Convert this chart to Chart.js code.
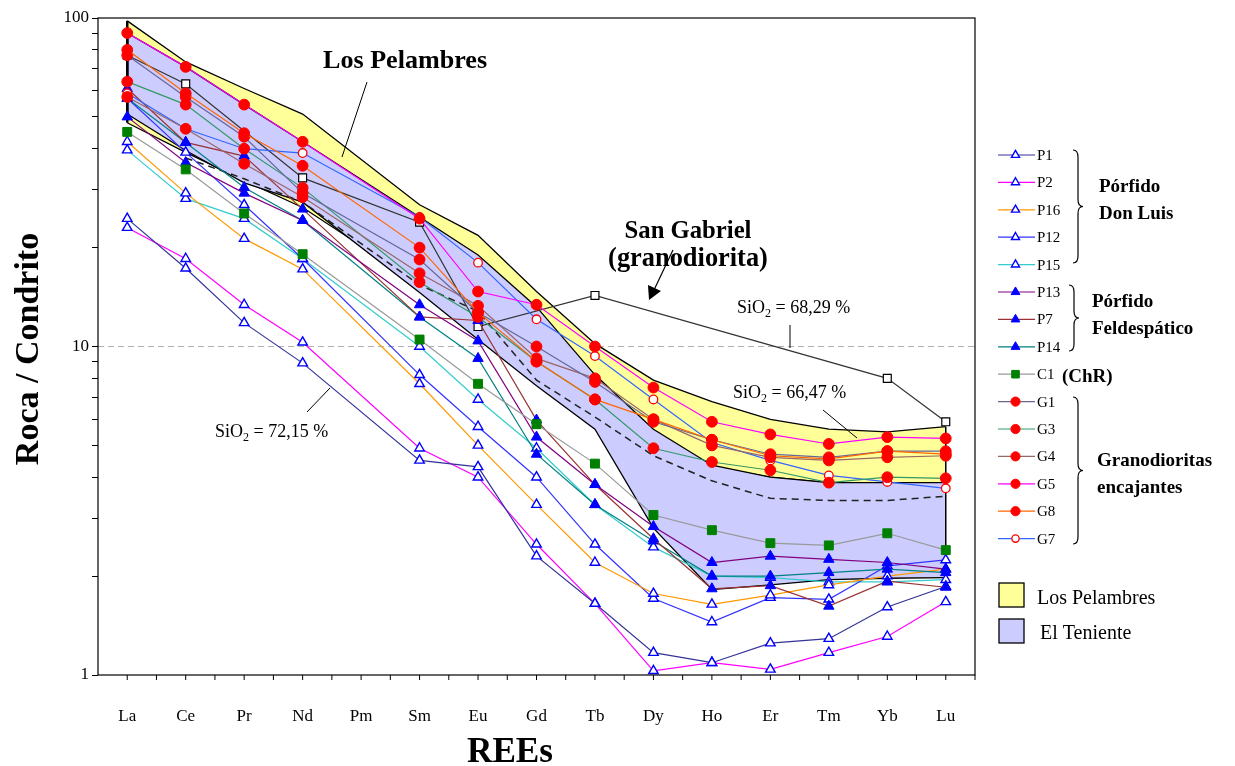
<!DOCTYPE html>
<html>
<head>
<meta charset="utf-8">
<script src="https://cdn.jsdelivr.net/npm/chart.js@4.4.1/dist/chart.umd.min.js"></script>
<style>
  html, body { margin: 0; padding: 0; background: #fff; }
</style>
</head>
<body>
<canvas id="chart" width="1235" height="766"></canvas>
<script>
// REE elements (x axis)
const categories = ['La', 'Ce', 'Pr', 'Nd', 'Pm', 'Sm', 'Eu', 'Gd', 'Tb', 'Dy', 'Ho', 'Er', 'Tm', 'Yb', 'Lu'];
const yTickLabels = [1, 10, 100];

// Pórfido Don Luis
const p1  = [24.5, 17.3, 11.8, 8.9, null, 4.5, 4.3, 2.3, 1.65, 1.17, 1.09, 1.25, 1.29, 1.61, 1.86];
const p2  = [23, 18.5, 13.4, 10.3, null, 4.9, 4.0, 2.5, 1.65, 1.03, 1.09, 1.04, 1.17, 1.31, 1.67];
const p16 = [42, 29.3, 21.3, 17.2, null, 7.7, 5.0, 3.3, 2.2, 1.77, 1.64, 1.75, 1.88, 2.0, 2.1];
const p12 = [57, 39, 27, 18.5, null, 8.2, 5.7, 4.0, 2.5, 1.71, 1.45, 1.72, 1.70, 2.15, 2.24];
const p15 = [39.6, 28.2, 24.5, 18.5, null, 10, 6.9, 4.9, 3.3, 2.45, 2.0, 1.98, 1.92, 1.92, 1.95];
// Pórfido Feldespático
const p13 = [50, 36.3, 29.3, 24.2, null, 13.4, 10.4, 5.3, 3.8, 2.83, 2.2, 2.3, 2.25, 2.2, 2.1];
const p7  = [61, 41.8, 38, 26.2, null, 12.3, 12, 5.97, 3.8, 2.6, 1.83, 1.87, 1.62, 1.93, 1.85];
const p14 = [57, 41.8, 30.5, 24.2, null, 12.3, 9.2, 4.7, 3.3, 2.56, 2.0, 2.0, 2.05, 2.1, 2.05];
// ChR
const c1  = [45, 34.6, 25.4, 19.1, null, 10.5, 7.7, 5.8, 4.4, 3.07, 2.76, 2.52, 2.48, 2.7, 2.4];
// Granodioritas encajantes
const g1  = [77, 57.5, 43.5, 29.3, null, 18.4, 12.7, 10.0, 7.8, 5.9, 5.2, 4.7, 4.6, 4.8, 4.8];
const g3  = [64, 54.5, 40, 30.4, null, 15.7, 12.3, 9.0, 6.9, 4.9, 4.45, 4.2, 3.85, 4.0, 3.97];
const g4  = [57.5, 46, 36, 28.5, null, 16.7, 13.3, 9.2, 8.0, 6.0, 5.0, 4.6, 4.5, 4.6, 4.65];
const g5  = [90, 71, 54.5, 42, null, 24.5, 14.7, 13.4, 10.0, 7.5, 5.9, 5.4, 5.05, 5.3, 5.25];
const g8  = [80, 59, 44.6, 35.5, null, 20, 12.7, 9.0, 6.9, 6.0, 5.2, 4.65, 4.55, 4.8, 4.7];
const g7  = [59, 46, 40, 38.8, null, 24.8, 18.0, 12.1, 9.35, 6.9, 5.1, 4.5, 4.05, 3.87, 3.7];
// San Gabriel (granodiorita) and El Teniente mean (dashed)
const sanGabriel = [77, 63, null, 32.6, null, 23.9, 11.5, null, 14.3, null, null, null, null, 8.0, 5.9];
const tenienteMean = [null, 37.5, 32.4, 27.5, null, 15.4, 12.8, 7.9, 6.1, 4.65, 3.9, 3.45, 3.4, 3.4, 3.5];
// Fields
const pelambresUpper = [98, 73.5, 61, 51, null, 27, 21.8, 14.7, 10.2, 7.9, 6.8, 6.0, 5.6, 5.5, 5.7];
const pelambresLower = [48, 39, 32, 26.5, null, 15.5, 11.5, 8.5, 7.0, 5.3, 4.3, 4.0, 3.85, 3.85, 3.85];
const tenienteUpper  = [90, 71, 54.5, 42, null, 24.8, 19, 13.2, 8.2, 5.6, 4.35, 4.0, 3.85, 3.85, 3.85];
const tenienteLower  = [51, 39.5, 31.5, 27.5, null, 14.6, 10.5, 7.6, 5.6, 2.8, 1.82, 1.88, 1.95, 1.97, 1.98];

const FONT = "'Liberation Serif', 'Times New Roman', serif";

// marker looks
const markers = {
    openTri:  { pointStyle: 'triangle', radius: 5.5, bg: '#ffffff', border: '#0000ff', bw: 1.4 },
    tri:      { pointStyle: 'triangle', radius: 6, bg: '#0000ff', border: '#0000ff', bw: 1 },
    square:   { pointStyle: 'rect', radius: 6.3, bg: '#008000', border: '#008000', bw: 1 },
    dot:      { pointStyle: 'circle', radius: 5.4, bg: '#ff0000', border: '#ff0000', bw: 1 },
    openDot:  { pointStyle: 'circle', radius: 4.3, bg: '#ffffff', border: '#ff0000', bw: 1.3 },
    openSq:   { pointStyle: 'rect', radius: 5.6, bg: '#ffffff', border: '#000000', bw: 1.2 }
};

const seriesList = [
    ['G5', g5, '#ff00ff', 'dot'],
    ['G8', g8, '#ff6600', 'dot'],
    ['G1', g1, '#666699', 'dot'],
    ['G4', g4, '#996666', 'dot'],
    ['G3', g3, '#339966', 'dot'],
    ['G7', g7, '#3366ff', 'openDot'],
    ['C1', c1, '#999999', 'square'],
    ['P13', p13, '#800080', 'tri'],
    ['P7', p7, '#993333', 'tri'],
    ['P14', p14, '#008080', 'tri'],
    ['P1', p1, '#333399', 'openTri'],
    ['P2', p2, '#ff00ff', 'openTri'],
    ['P16', p16, '#ff9900', 'openTri'],
    ['P12', p12, '#3333ff', 'openTri'],
    ['P15', p15, '#33cccc', 'openTri']
];

const datasets = seriesList.map(([label, data, color, m]) => ({
    label: label,
    data: data,
    borderColor: color,
    borderWidth: 1.2,
    pointStyle: markers[m].pointStyle,
    pointRadius: markers[m].radius,
    pointBackgroundColor: markers[m].bg,
    pointBorderColor: markers[m].border,
    pointBorderWidth: markers[m].bw,
    spanGaps: true,
    fill: false,
    order: 0
}));

datasets.push({
    label: 'San Gabriel', data: sanGabriel, borderColor: '#333333', borderWidth: 1.2,
    pointStyle: 'rect', pointRadius: markers.openSq.radius, pointBackgroundColor: '#ffffff',
    pointBorderColor: '#000000', pointBorderWidth: 1.2, spanGaps: true, fill: false, order: 1
});
datasets.push({
    label: 'El Teniente media', data: tenienteMean, borderColor: '#222222', borderWidth: 1.5,
    borderDash: [7, 5], pointRadius: 0, spanGaps: true, fill: false, order: 2
});

// fields (drawn first, underneath)
const fieldStart = datasets.length;
datasets.push({ label: 'LP sup', data: pelambresUpper, borderColor: '#000', borderWidth: 1.3,
    backgroundColor: '#ffff99', fill: '+1', pointRadius: 0, spanGaps: true, order: 100 });
datasets.push({ label: 'LP inf', data: pelambresLower, borderColor: '#000', borderWidth: 1.3,
    fill: false, pointRadius: 0, spanGaps: true, order: 99 });
datasets.push({ label: 'ET sup', data: tenienteUpper, borderColor: '#000', borderWidth: 1.3,
    backgroundColor: '#ccccff', fill: '+1', pointRadius: 0, spanGaps: true, order: 98 });
datasets.push({ label: 'ET inf', data: tenienteLower, borderColor: '#000', borderWidth: 1.3,
    fill: false, pointRadius: 0, spanGaps: true, order: 97 });

function text(ctx, str, x, y, font, align) {
    ctx.font = font;
    ctx.textAlign = align || 'left';
    ctx.textBaseline = 'alphabetic';
    ctx.fillStyle = '#000';
    ctx.fillText(str, x, y);
}

function fitFont(ctx, str, width, weight) {
    ctx.font = weight + ' 20px ' + FONT;
    const size = 20 * width / ctx.measureText(str).width;
    return weight + ' ' + size.toFixed(1) + 'px ' + FONT;
}

function sio2(ctx, x, y, rest) {
    ctx.fillStyle = '#000';
    ctx.textAlign = 'left';
    ctx.font = '18px ' + FONT;
    ctx.fillText('SiO', x, y);
    let w = ctx.measureText('SiO').width;
    ctx.font = '12px ' + FONT;
    ctx.fillText('2', x + w, y + 4);
    w += ctx.measureText('2').width;
    ctx.font = '18px ' + FONT;
    ctx.fillText(' = ' + rest, x + w, y);
}

function line(ctx, x1, y1, x2, y2, w) {
    ctx.beginPath();
    ctx.moveTo(x1, y1);
    ctx.lineTo(x2, y2);
    ctx.lineWidth = w || 1;
    ctx.strokeStyle = '#000';
    ctx.stroke();
}

function brace(ctx, x, y1, y2) {
    const w = 5, ym = (y1 + y2) / 2;
    ctx.beginPath();
    ctx.moveTo(x, y1);
    ctx.quadraticCurveTo(x + w, y1, x + w, y1 + 7);
    ctx.lineTo(x + w, ym - 7);
    ctx.quadraticCurveTo(x + w, ym, x + 2 * w, ym);
    ctx.quadraticCurveTo(x + w, ym, x + w, ym + 7);
    ctx.lineTo(x + w, y2 - 7);
    ctx.quadraticCurveTo(x + w, y2, x, y2);
    ctx.lineWidth = 1.2;
    ctx.strokeStyle = '#000';
    ctx.stroke();
}

const decorations = {
    id: 'decorations',
    beforeDatasetsDraw(chart) {
        const ctx = chart.ctx, a = chart.chartArea, y = chart.scales.y;
        // dashed gridline at 10
        const y10 = y.getPixelForValue(10);
        ctx.save();
        ctx.setLineDash([6, 4]);
        ctx.lineWidth = 1;
        ctx.strokeStyle = '#b0b0b0';
        ctx.beginPath(); ctx.moveTo(a.left, y10); ctx.lineTo(a.right, y10); ctx.stroke();
        ctx.restore();
    },
    afterDatasetDraw(chart, args) {
        if (args.index !== fieldStart + 3) return;
        // closing vertical edges of the fields
        const ctx = chart.ctx, x = chart.scales.x, y = chart.scales.y;
        const last = categories.length - 1;
        ctx.save();
        [[pelambresUpper, pelambresLower], [tenienteUpper, tenienteLower]].forEach(([up, lo]) => {
            [0, last].forEach(i => {
                const px = x.getPixelForValue(i);
                line(ctx, px, y.getPixelForValue(up[i]), px, y.getPixelForValue(lo[i]), i === 0 ? 2.5 : 1.5);
            });
        });
        ctx.restore();
    },
    afterDraw(chart) {
        const ctx = chart.ctx, a = chart.chartArea, xs = chart.scales.x;
        ctx.save();
        // frame
        ctx.strokeStyle = '#000';
        ctx.lineWidth = 1.2;
        ctx.strokeRect(a.left, a.top, a.right - a.left, a.bottom - a.top);
        // x tick marks (centres and boundaries)
        const step = (a.right - a.left) / categories.length;
        for (let i = 0; i < categories.length; i++) {
            const cx = xs.getPixelForValue(i);
            line(ctx, cx, a.bottom, cx, a.bottom + 5, 1);
            line(ctx, cx + step / 2, a.bottom, cx + step / 2, a.bottom + 5, 1);
        }
        // axis titles
        const yTitle = 'Roca / Condrito';
        const yFont = fitFont(ctx, yTitle, 232, 'bold');
        ctx.save();
        ctx.translate(38, 349);
        ctx.rotate(-Math.PI / 2);
        text(ctx, yTitle, 0, 0, yFont, 'center');
        ctx.restore();
        text(ctx, 'REEs', 510, 762, fitFont(ctx, 'REEs', 86, 'bold'), 'center');

        // annotations
        text(ctx, 'Los Pelambres', 323, 68, fitFont(ctx, 'Los Pelambres', 164, 'bold'), 'left');
        line(ctx, 367, 82, 342, 157, 1);
        text(ctx, 'San Gabriel', 688, 238, fitFont(ctx, 'San Gabriel', 127, 'bold'), 'center');
        text(ctx, '(granodiorita)', 688, 266, fitFont(ctx, '(granodiorita)', 160, 'bold'), 'center');
        line(ctx, 673, 250, 654, 290, 1.2);
        ctx.beginPath();
        ctx.moveTo(649, 300); ctx.lineTo(648, 285); ctx.lineTo(661, 291); ctx.closePath();
        ctx.fillStyle = '#000'; ctx.fill();

        sio2(ctx, 737, 313, '68,29 %');
        line(ctx, 790, 325, 790, 348, 1);
        sio2(ctx, 733, 398, '66,47 %');
        line(ctx, 823, 410, 857, 438, 1);
        sio2(ctx, 215, 437, '72,15 %');
        line(ctx, 330, 388, 307, 412, 1);

        // legend
        const rowY = 155, rowH = 27.4, lx1 = 998, lx2 = 1035;
        const legendOrder = ['P1', 'P2', 'P16', 'P12', 'P15', 'P13', 'P7', 'P14', 'C1', 'G1', 'G3', 'G4', 'G5', 'G8', 'G7'];
        legendOrder.forEach((name, k) => {
            const s = seriesList.find(e => e[0] === name);
            const m = markers[s[3]];
            const yy = rowY + k * rowH;
            ctx.beginPath();
            ctx.moveTo(lx1, yy); ctx.lineTo(lx2, yy);
            ctx.strokeStyle = s[2]; ctx.lineWidth = 1.2; ctx.stroke();
            ctx.fillStyle = m.bg; ctx.strokeStyle = m.border; ctx.lineWidth = m.bw;
            Chart.helpers.drawPoint(ctx, { pointStyle: m.pointStyle, radius: m.radius * 0.85, borderWidth: m.bw, rotation: 0 }, (lx1 + lx2) / 2 - 1, yy);
            text(ctx, name, 1037, yy + 5, '15px ' + FONT, 'left');
        });
        const groupFont = 'bold 19px ' + FONT;
        brace(ctx, 1073, 150, 263);
        text(ctx, 'Pórfido', 1099, 192, groupFont);
        text(ctx, 'Don Luis', 1099, 219, groupFont);
        brace(ctx, 1069, 285, 351);
        text(ctx, 'Pórfido', 1092, 307, groupFont);
        text(ctx, 'Feldespático', 1092, 334, groupFont);
        text(ctx, '(ChR)', 1062, 382, groupFont);
        brace(ctx, 1073, 397, 544);
        text(ctx, 'Granodioritas', 1097, 466, groupFont);
        text(ctx, 'encajantes', 1097, 493, groupFont);

        ctx.lineWidth = 1.3; ctx.strokeStyle = '#000';
        ctx.fillStyle = '#ffff99';
        ctx.fillRect(999, 583, 25, 24); ctx.strokeRect(999, 583, 25, 24);
        text(ctx, 'Los Pelambres', 1037, 604, '20px ' + FONT);
        ctx.fillStyle = '#ccccff';
        ctx.fillRect(999, 619, 25, 24); ctx.strokeRect(999, 619, 25, 24);
        text(ctx, 'El Teniente', 1040, 639, '20px ' + FONT);
        ctx.restore();
    }
};

new Chart(document.getElementById('chart'), {
    type: 'line',
    data: { labels: categories, datasets: datasets },
    options: {
        responsive: false,
        animation: false,
        devicePixelRatio: 1,
        layout: { padding: { top: 18, right: 260, left: 0, bottom: 0 } },
        plugins: {
            legend: { display: false },
            tooltip: { enabled: false },
            filler: { propagate: false }
        },
        elements: { line: { tension: 0 } },
        scales: {
            x: {
                type: 'category',
                offset: true,
                afterFit: s => { s.height = 91; },
                grid: { display: false },
                border: { display: false },
                ticks: { color: '#000', font: { family: FONT, size: 17 }, padding: 23, maxRotation: 0 }
            },
            y: {
                type: 'logarithmic',
                min: 1,
                max: 100,
                afterFit: s => { s.width = 98; },
                afterBuildTicks: s => {
                    const t = [];
                    [1, 10].forEach(d => { for (let k = 1; k < 10; k++) t.push({ value: d * k }); });
                    t.push({ value: 100 });
                    s.ticks = t;
                },
                grid: { drawOnChartArea: false, drawTicks: true, tickLength: 6, tickColor: '#000' },
                border: { display: false },
                ticks: {
                    autoSkip: false,
                    color: '#000',
                    font: { family: FONT, size: 17 },
                    padding: 3,
                    callback: v => yTickLabels.includes(v) ? String(v) : ''
                }
            }
        }
    },
    plugins: [decorations]
});
</script>
</body>
</html>
